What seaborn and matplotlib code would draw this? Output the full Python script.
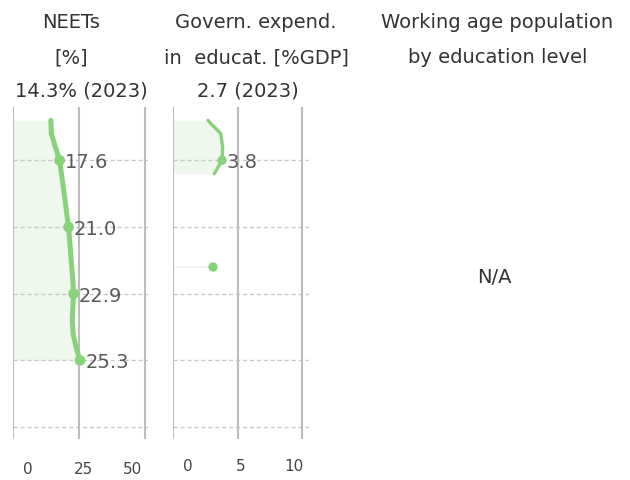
import matplotlib
matplotlib.use("Agg")
import matplotlib.pyplot as plt
import matplotlib.transforms as mtransforms
import seaborn as sns
import pandas as pd

# ---- data ----
neet_years = [2023, 2022, 2021, 2020, 2019, 2018, 2017, 2016, 2015, 2014, 2013, 2012, 2011,
              2010, 2009, 2008, 2007, 2006, 2005]
neet_values = [14.3, 14.5, 16.0, 17.6, 18.3, 19.0, 19.7, 20.3, 21.0, 21.4, 21.8, 22.2, 22.6,
               22.9, 22.6, 22.4, 22.7, 23.8, 25.3]
neet_mark_years = [2020, 2015, 2010, 2005]
neet_mark_values = [17.6, 21.0, 22.9, 25.3]

edu_years = [2023, 2022, 2021, 2020, 2019]
edu_values = [2.7, 3.7, 3.85, 3.8, 3.2]
edu_mark_years = [2020]
edu_mark_values = [3.8]
edu_isolated_years = [2012]
edu_isolated_values = [3.1]

titles_neet = ["NEETs", "[%]"]
latest_neet = "14.3% (2023)"
titles_edu = ["Govern. expend.", "in  educat. [%GDP]"]
latest_edu = "2.7 (2023)"
titles_pop = ["Working age population", "by education level"]
na_text = "N/A"

neet_ticks = [0, 25, 50]
edu_ticks = [0, 5, 10]
grid_years = [2020, 2015, 2010, 2005, 2000]

# ---- style ----
sns.set_theme(style="white")
plt.rcParams["font.family"] = ["DejaVu Sans"]

GREEN = "#88d27b"
FILL = "#eff8ed"
GRID = "#bdbdbd"
TXT = "#333333"
LBL = "#5a5a5a"

fig = plt.figure(figsize=(6.3, 4.81), dpi=100)
W, H = 630, 481


def add_ax(x0, x1, y0, y1):
    return fig.add_axes([x0 / W, 1 - y1 / H, (x1 - x0) / W, (y1 - y0) / H])


ax1 = add_ax(13, 148, 108, 440)
ax2 = add_ax(173, 308.5, 108, 440)

neet_df = pd.DataFrame({"year": neet_years, "value": neet_values})
edu_df = pd.DataFrame({"year": edu_years, "value": edu_values})


def style_axis(ax, xmax, ticks, offsets, pad):
    ax.set_xlim(0, xmax)
    ax.set_ylim(1999.1, 2024.0)
    for s in ax.spines.values():
        s.set_visible(False)
    ax.set_yticks([])
    for gy in grid_years:
        ax.axhline(gy, color="#c8c8c8", lw=1.0, ls=(0, (3, 2)), zorder=1)
    for t in ticks:
        ax.axvline(t, color=GRID, lw=1.5, zorder=1)
    ax.set_xticks(ticks)
    ax.set_xticklabels([str(t) for t in ticks])
    ax.tick_params(axis="x", length=0, pad=pad, labelsize=11, labelcolor="#444444")
    for lab, dx in zip(ax.get_xticklabels(), offsets):
        lab.set_transform(lab.get_transform() + mtransforms.ScaledTranslation(dx / 100, 0, fig.dpi_scale_trans))
    ax.set_xlabel("")
    ax.set_ylabel("")
    ax.grid(False)


style_axis(ax1, 51, neet_ticks, [14.5, 4, -13], 16)
style_axis(ax2, 10.5, edu_ticks, [15, 3, -8.5], 13.5)

# panel 1
ax1.fill_betweenx(neet_df["year"], 0, neet_df["value"], color=FILL, lw=0, zorder=0)
sns.lineplot(data=neet_df, x="value", y="year", sort=False, estimator=None, orient="y",
             color=GREEN, lw=3.6, ax=ax1, zorder=3, solid_capstyle="round", solid_joinstyle="round")
sns.scatterplot(x=neet_mark_values, y=neet_mark_years, color=GREEN, s=60, edgecolor="none", ax=ax1, zorder=4)
for v, yv in zip(neet_mark_values, neet_mark_years):
    ax1.annotate(f"{v:.1f}", (v, yv), xytext=(3.8, -5), textcoords="offset points",
                 va="baseline", ha="left", fontsize=14, color=LBL, zorder=5)

# panel 2
ax2.fill_betweenx(edu_df["year"], 0, edu_df["value"], color=FILL, lw=0, zorder=0)
ax2.hlines(edu_isolated_years, 0, edu_isolated_values, color=FILL, lw=1.5, zorder=0)
sns.lineplot(data=edu_df, x="value", y="year", sort=False, estimator=None, orient="y",
             color=GREEN, lw=2.4, ax=ax2, zorder=3, solid_capstyle="round", solid_joinstyle="round")
sns.scatterplot(x=edu_mark_values + edu_isolated_values, y=edu_mark_years + edu_isolated_years,
                color=GREEN, s=45, edgecolor="none", ax=ax2, zorder=4)
for v, yv in zip(edu_mark_values, edu_mark_years):
    ax2.annotate(f"{v:.1f}", (v, yv), xytext=(3.2, -5), textcoords="offset points",
                 va="baseline", ha="left", fontsize=14, color=LBL, zorder=5)
for a in (ax1, ax2):
    leg = a.get_legend()
    if leg:
        leg.remove()
    a.set_xlabel("")
    a.set_ylabel("")

# titles
base_y = [28, 63, 97]


def put(x, y, txt, **kw):
    fig.text(x / W, 1 - y / H, txt, ha="center", va="baseline", fontsize=14, color=TXT, **kw)


for txt, yy in zip(titles_neet, base_y):
    put(71, yy, txt)
put(81, base_y[2], latest_neet)
for txt, yy in zip(titles_edu, base_y):
    put(256, yy, txt)
put(247.5, base_y[2], latest_edu)
for txt, yy in zip(titles_pop, base_y):
    put(497.5, yy, txt)
fig.text(494 / W, 1 - 275.5 / H, na_text, ha="center", va="center_baseline", fontsize=14, color=TXT)

fig.savefig("out.png", dpi=100)
